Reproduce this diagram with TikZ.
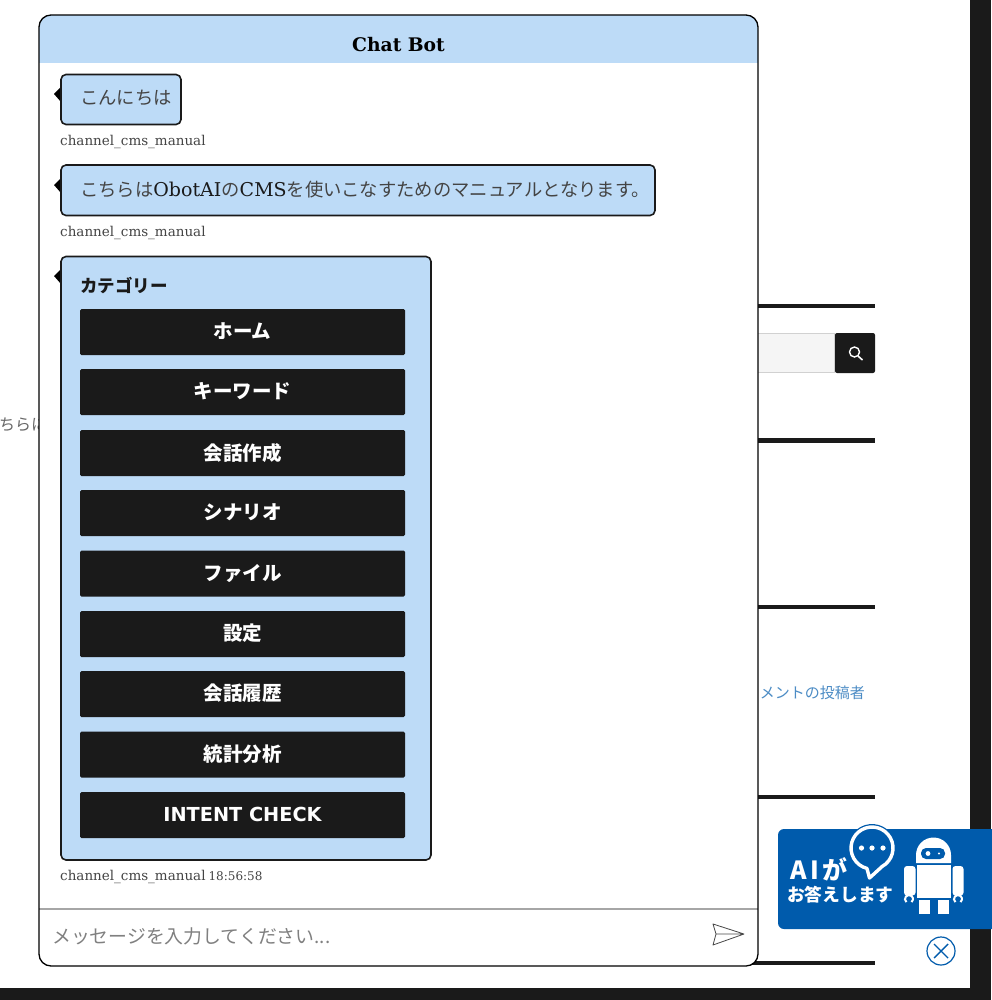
\documentclass[tikz,border=0pt]{standalone}
\usepackage{fontspec}
\setmainfont{DejaVu Serif}
\newfontfamily\jp{Noto Sans CJK JP}
\newfontfamily\ser{DejaVu Serif}
\newfontfamily\sns{DejaVu Sans}
\definecolor{dark}{HTML}{1A1A1A}
\definecolor{sky}{HTML}{BDDBF7}
\definecolor{brand}{HTML}{005BAC}
\definecolor{msg}{HTML}{444444}
\tikzset{
  bar/.style={fill=dark,draw=none},
  bubble/.style={fill=sky,draw=dark,line width=1.6pt,rounded corners=5pt},
  notch/.style={fill=black,draw=none},
  catbtn/.style={fill=dark,draw=none,rounded corners=1.5pt,text=white,minimum width=325pt,minimum height=46pt,inner sep=0pt,font=\jp\bfseries\fontsize{19.5}{20}\selectfont},
  msgtxt/.style={anchor=west,inner sep=0pt,text=msg,font=\jp\fontsize{18.3}{22}\selectfont},
  meta/.style={anchor=west,inner sep=0pt,text=msg,font=\ser\fontsize{13.5}{16}\selectfont},
}
\newcommand{\catbutton}[3]{\node[catbtn] (#1) at (242.5,#2) {\raisebox{3pt}{#3}};}
\newcommand{\latin}[1]{{\ser\color{dark}\fontsize{19}{22}\selectfont #1}}
\begin{document}
\begin{tikzpicture}[x=1pt,y=-1pt]
\useasboundingbox (0,0) rectangle (991,1000);
% page background
\fill[white] (0,0) rectangle (991,1000);
\fill[dark] (970,0) rectangle (991,1000);
\fill[dark] (0,988) rectangle (991,1000);
% sidebar remnants
\fill[bar] (700,304) rectangle (875,308);
\fill[bar] (700,438) rectangle (875,442.5);
\fill[bar] (700,605) rectangle (875,609);
\fill[bar] (700,795) rectangle (875,799);
\fill[bar] (700,961) rectangle (875,965);
\filldraw[fill=black!4,draw=black!18,line width=1pt] (700,333.5) rectangle (834,372.5);
\fill[dark,rounded corners=2pt] (835,333) rectangle (875,373);
\draw[white,line width=1.4pt] (854.5,352) circle (5);
\draw[white,line width=1.6pt] (858,356) -- (862.5,360);
\node[anchor=west,inner sep=0pt,text=msg!80,font=\jp\fontsize{16}{20}\selectfont] (behind) at (-1,425) {ちらに};
\node[anchor=east,inner sep=0pt,text=brand!70,font=\jp\fontsize{15}{20}\selectfont] (author) at (865,693) {メントの投稿者};
% panel
\path[fill=white,rounded corners=12pt] (39,15) rectangle (758,966);
\begin{scope}
  \clip[rounded corners=12pt] (39,15) rectangle (758,966);
  \fill[sky] (39,15) rectangle (758,63);
\end{scope}
\draw[black!35,line width=1.2pt] (39,909) -- (758,909);
\draw[black,line width=1.3pt,rounded corners=12pt] (39,15) rectangle (758,966);
\node[inner sep=0pt,text=black,font=\ser\bfseries\fontsize{18.7}{22}\selectfont] (title) at (398.5,44.5) {Chat Bot};
% bubble 1
\fill[notch] (61,87) -- (54,94) -- (61,102) -- cycle;
\draw[bubble] (61,74.5) rectangle (181,124.5);
\node[msgtxt] (hello) at (80,97.5) {こんにちは};
\node[meta] (meta1) at (60,142) {channel\_cms\_manual};
% bubble 2
\fill[notch] (61,178) -- (54,185) -- (61,193) -- cycle;
\draw[bubble] (61,165) rectangle (655,215.5);
\node[msgtxt] (intro) at (80,189.5) {こちらは\latin{ObotAI}の\latin{CMS}を使いこなすためのマニュアルとなります。};
\node[meta] (meta2) at (60,233) {channel\_cms\_manual};
% bubble 3
\fill[notch] (61,269) -- (54,276) -- (61,284) -- cycle;
\draw[bubble] (61,256.5) rectangle (431,860);
\node[anchor=west,inner sep=0pt,text=dark,font=\jp\bfseries\fontsize{17.5}{22}\selectfont] (cat) at (80,285) {カテゴリー};
\catbutton{b1}{332}{ホーム}
\catbutton{b2}{392}{キーワード}
\catbutton{b3}{453}{会話作成}
\catbutton{b4}{513}{シナリオ}
\catbutton{b5}{573.5}{ファイル}
\catbutton{b6}{634}{設定}
\catbutton{b7}{694}{会話履歴}
\catbutton{b8}{754.5}{統計分析}
\node[catbtn] (b9) at (242.5,815) {\raisebox{1.2pt}{\sns\bfseries\fontsize{19.3}{20}\selectfont INTENT CHECK}};
\node[meta] (meta3) at (60,877) {channel\_cms\_manual\kern3pt{\fontsize{12}{16}\selectfont 18:56:58}};
% input
\node[anchor=west,inner sep=0pt,text=black!50,font=\jp\fontsize{18.85}{22}\selectfont] (input) at (52,936) {メッセージを入力してください...};
\draw[dark!80,line width=0.8pt,line join=round] (713,924) -- (744,934) -- (713,945) -- (716,934) -- cycle (716,934) -- (744,934);
% AI banner
\fill[brand,rounded corners=6pt] (778,829) rectangle (1010,929);
\node[anchor=west,inner sep=0pt,text=white,font=\jp\bfseries\fontsize{25}{28}\selectfont] (ai) at (790,869) {A\kern4pt I\kern3pt が};
\node[anchor=west,inner sep=0pt,text=white,font=\jp\bfseries\fontsize{17.7}{20}\selectfont] (answer) at (787,895) {お答えします};
% speech bubble
\draw[brand,fill=brand,line width=6pt,line join=round] (882.2,866.4) arc[start angle=61,delta angle=-317,radius=21] -- (869.5,878) -- cycle;
\draw[white,line width=3.4pt,line join=round] (882.2,866.4) arc[start angle=61,delta angle=-317,radius=21] -- (869.5,878) -- cycle;
\fill[white] (861.5,848) circle (2.6) (872,848) circle (2.6) (883,848) circle (2.6);
% robot
\fill[white] (916,863) -- (916,855) arc[start angle=180,delta angle=180,radius=17.5] -- (951,863) -- cycle;
\fill[brand,rounded corners=5pt] (921,848) rectangle (945,859);
\fill[white] (928,853.5) circle (2.4) (939,853.5) circle (1.2);
\fill[white] (917,864.5) rectangle (951,898);
\fill[white,rounded corners=3pt] (904,895.5) -- (904,866) -- (915.5,866) -- (915.5,895.5) -- cycle;
\fill[white,rounded corners=3pt] (952.5,895.5) -- (952.5,866) -- (963.5,866) -- (963.5,895.5) -- cycle;
\draw[white,line width=2pt] (906.4,902.1) arc[start angle=130,delta angle=280,radius=4];
\draw[white,line width=2pt] (955.4,902.1) arc[start angle=130,delta angle=280,radius=4];
\fill[white] (919,900) rectangle (930,914);
\fill[white] (938,900) rectangle (949,914);
% close
\draw[brand,line width=1.2pt] (941,951) circle (14);
\draw[brand,line width=1.4pt] (934,944) -- (948,958) (948,944) -- (934,958);
\end{tikzpicture}
\end{document}
